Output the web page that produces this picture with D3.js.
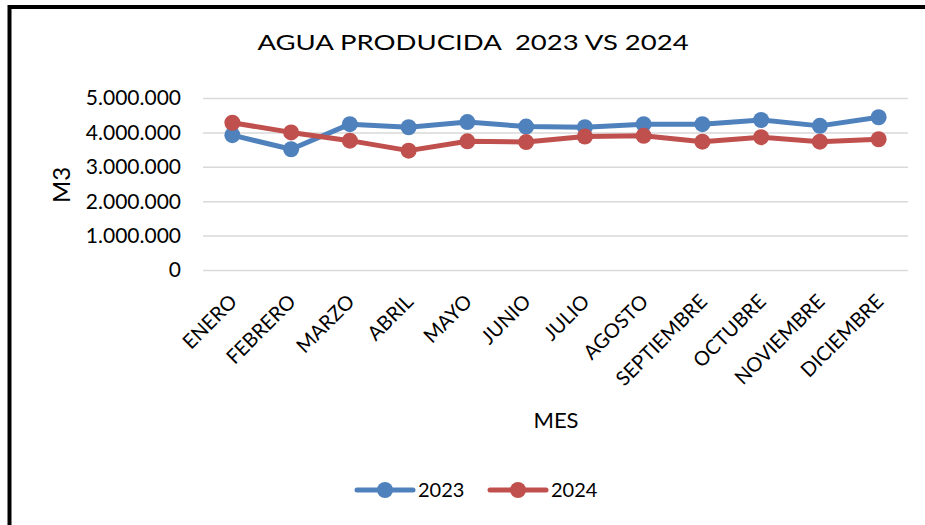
<!DOCTYPE html>
<html lang="es">
<head>
  <meta charset="utf-8">
  <title>Agua producida</title>
  <script src="https://d3js.org/d3.v7.min.js"></script>
  <style>
    body { margin: 0; background: #fff; }
    text { font-family: Lato, "Open Sans", sans-serif; fill: #000; }
    .grid line { stroke: #d9d9d9; stroke-width: 1.5; }
    .grid .domain { display: none; }
    .series path { fill: none; stroke-width: 5; stroke-linejoin: round; }
  </style>
</head>
<body>
<script>
var meses = ['ENERO','FEBRERO','MARZO','ABRIL','MAYO','JUNIO','JULIO','AGOSTO','SEPTIEMBRE','OCTUBRE','NOVIEMBRE','DICIEMBRE'];
var valores2023 = [3920000, 3510000, 4240000, 4150000, 4300000, 4170000, 4150000, 4240000, 4240000, 4360000, 4190000, 4440000];
var valores2024 = [4280000, 4000000, 3760000, 3470000, 3740000, 3720000, 3880000, 3900000, 3730000, 3860000, 3730000, 3800000];
var yTicks = [0, 1000000, 2000000, 3000000, 4000000, 5000000];
var series = [
  { name: '2023', values: valores2023, color: '#4f81bd' },
  { name: '2024', values: valores2024, color: '#c0504d' }
];

var width = 925, height = 525;
var plot = { left: 203, right: 908, top: 98, bottom: 270 };

var svg = d3.select('body').append('svg')
  .attr('width', width)
  .attr('height', height);

// marco del grafico
svg.append('path')
  .attr('d', 'M9.5,' + height + 'V7H' + width)
  .attr('fill', 'none')
  .attr('stroke', '#000')
  .attr('stroke-width', 4);

var x = d3.scaleBand().domain(meses).range([plot.left, plot.right]);
var y = d3.scaleLinear().domain([0, 5000000]).range([plot.bottom, plot.top]);

var fmt = function(d) { return d3.format(',')(d).replace(/,/g, '.'); };

svg.append('g')
  .attr('class', 'grid')
  .attr('transform', 'translate(' + plot.left + ',0)')
  .call(d3.axisLeft(y).tickValues(yTicks).tickSize(-(plot.right - plot.left)).tickFormat(''));

svg.append('g')
  .selectAll('text')
  .data(yTicks)
  .enter().append('text')
  .attr('x', 181)
  .attr('y', function(d) { return y(d); })
  .attr('dy', '0.35em')
  .attr('text-anchor', 'end')
  .style('font-size', '21px')
  .text(fmt);

svg.append('g')
  .selectAll('text')
  .data(meses)
  .enter().append('text')
  .attr('transform', function(d) { return 'translate(' + (x(d) + x.bandwidth() / 2 + 1) + ',298) rotate(-45)'; })
  .attr('text-anchor', 'end')
  .attr('dy', '0.35em')
  .style('font-size', '20px')
  .text(function(d) { return d; });

var line = d3.line()
  .x(function(d, i) { return x(meses[i]) + x.bandwidth() / 2; })
  .y(function(d) { return y(d); });

var g = svg.selectAll('.series')
  .data(series)
  .enter().append('g')
  .attr('class', 'series');

g.append('path')
  .attr('stroke', function(d) { return d.color; })
  .attr('d', function(d) { return line(d.values); });

g.each(function(s) {
  d3.select(this).selectAll('circle')
    .data(s.values)
    .enter().append('circle')
    .attr('cx', function(d, i) { return x(meses[i]) + x.bandwidth() / 2; })
    .attr('cy', function(d) { return y(d); })
    .attr('r', 8)
    .attr('fill', s.color);
});

svg.append('text')
  .attr('transform', 'translate(473,50) scale(1.25,1)')
  .attr('text-anchor', 'middle')
  .style('font-size', '22px')
  .style('white-space', 'pre')
  .text('AGUA PRODUCIDA  2023 VS 2024');

svg.append('text')
  .attr('transform', 'translate(70,185) rotate(-90)')
  .attr('text-anchor', 'middle')
  .style('font-size', '24px')
  .text('M3');

svg.append('text')
  .attr('x', 556)
  .attr('y', 428)
  .attr('text-anchor', 'middle')
  .style('font-size', '22px')
  .text('MES');

var legend = svg.append('g').selectAll('g')
  .data(series)
  .enter().append('g')
  .attr('transform', function(d, i) { return 'translate(' + (357 + i * 133) + ',490)'; });

legend.append('line')
  .attr('x1', 0).attr('x2', 56)
  .attr('stroke', function(d) { return d.color; })
  .attr('stroke-width', 5)
  .attr('stroke-linecap', 'round');

legend.append('circle')
  .attr('cx', 28)
  .attr('r', 8)
  .attr('fill', function(d) { return d.color; });

legend.append('text')
  .attr('x', 61)
  .attr('dy', '0.35em')
  .style('font-size', '20px')
  .text(function(d) { return d.name; });
</script>
</body>
</html>
